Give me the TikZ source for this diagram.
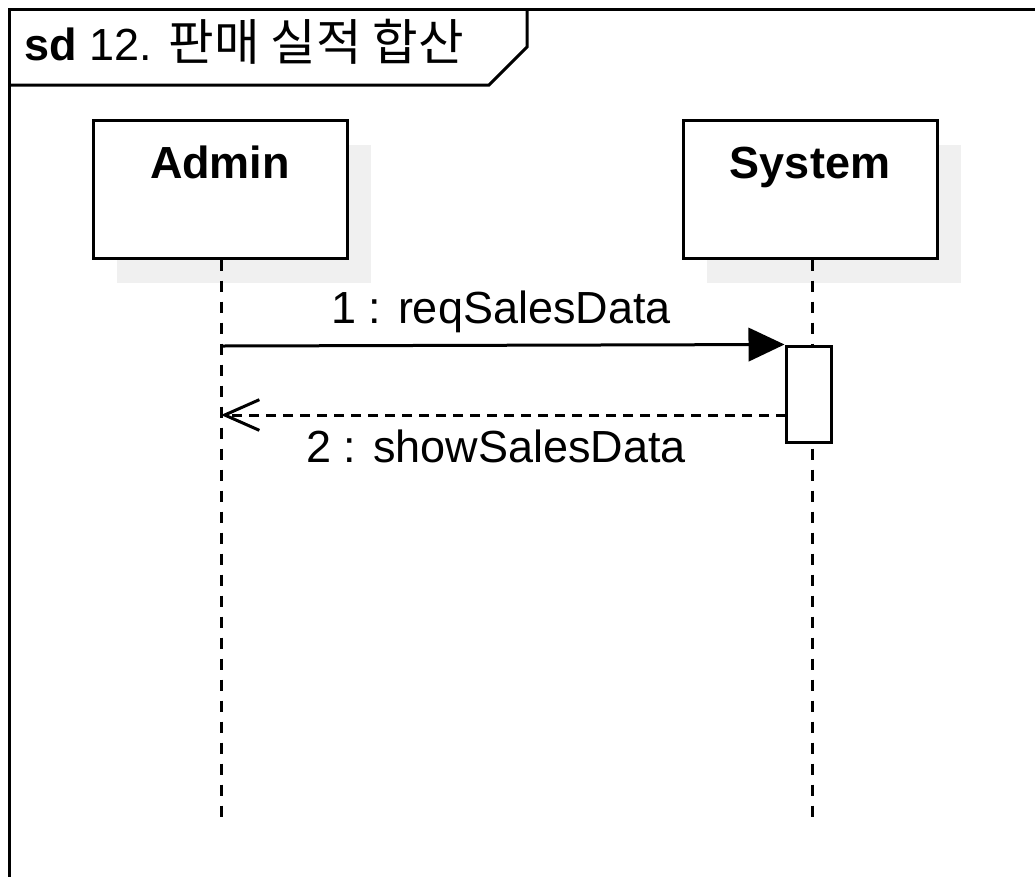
\documentclass[tikz,border=0pt]{standalone}
\usepackage{fontspec}
\setmainfont{Liberation Sans}
\newfontfamily\kofont{Noto Sans CJK KR}[Scale=1.1]
\usetikzlibrary{arrows.meta,positioning}

\tikzset{
  lifebox/.style={draw,line width=2.25pt,fill=white,minimum width=190.5pt,minimum height=103.5pt,inner sep=0pt},
  boxshadow/.style={fill=black!6,draw=none,minimum width=190.5pt,minimum height=103.5pt,inner sep=0pt},
  boxlabel/.style={font=\fontsize{33.75}{40}\selectfont\bfseries,anchor=base,inner sep=0pt},
  lifeline/.style={line width=2.25pt,dash pattern=on 8.25pt off 7.5pt},
  actbox/.style={draw,line width=2.25pt,fill=white,minimum width=33.75pt,minimum height=72pt,inner sep=0pt},
  call/.style={line width=2.25pt,-{Triangle[length=27pt,width=25pt]}},
  reply/.style={line width=2.25pt,dash pattern=on 7.5pt off 5.25pt,-{Straight Barb[length=26pt,width=23pt,line width=2.25pt]}},
  msglabel/.style={font=\fontsize{33.75}{40}\selectfont,anchor=base,inner sep=0pt}
}

\begin{document}
\begin{tikzpicture}[x=0.75pt,y=-0.75pt,line join=miter]
  \useasboundingbox (0,0) rectangle (1035,876);
  % frame and title tab
  \draw[line width=2.25pt] (1040,9) -- (9,9) -- (9,880);
  \draw[line width=2.25pt] (9,85) -- (489,85) -- (527,47) -- (527,9);
  \node[anchor=base west,inner sep=0pt,font=\fontsize{33.75}{40}\selectfont] (title) at (24,60)
    {\textbf{sd} 12. {\kofont 판매 실적 합산}};

  % participants
  \node[boxshadow] (adminshadow) at (244,213.5) {};
  \node[boxshadow] (systemshadow) at (834,213.5) {};
  \node[lifebox] (admin) at (220,189) {};
  \node[lifebox] (system) at (810,189) {};
  \node[boxlabel] (adminlbl) at (220,178) {Admin};
  \node[boxlabel] (systemlbl) at (810,178) {System};

  % lifelines
  \coordinate (adminend) at (221,818);
  \coordinate (systemend) at (812,818);
  \draw[lifeline] (admin.south -| adminend) -- (adminend);
  \draw[lifeline] (system.south -| systemend) -- (systemend);

  % activation
  \node[actbox] (act) at (808.5,394) {};

  % messages
  \coordinate (m1) at (221,346);
  \draw[call] (m1) -- (act.north west);
  \node[msglabel] (lbl1) at (501,323) {1 : reqSalesData};
  \coordinate (m2) at (786,415);
  \coordinate (m2end) at (221,415);
  \draw[reply] (m2) -- (m2end);
  \node[msglabel] (lbl2) at (496,462) {2 : showSalesData};
\end{tikzpicture}
\end{document}
